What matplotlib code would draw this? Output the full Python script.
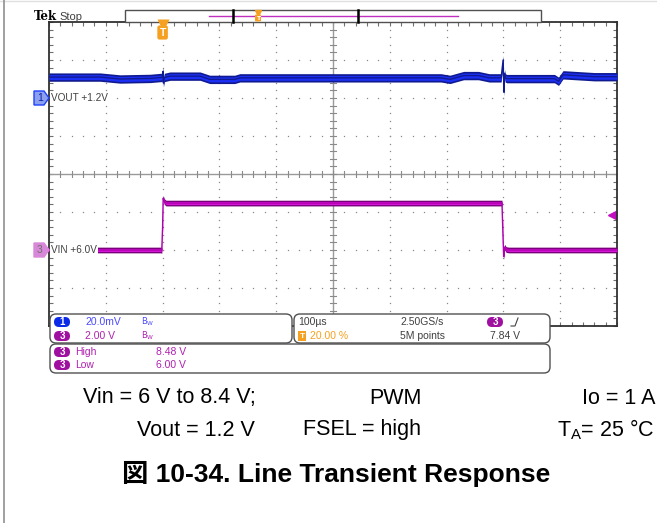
import numpy as np
import matplotlib
matplotlib.use('Agg')
import matplotlib.pyplot as plt
from matplotlib.patches import FancyBboxPatch, Rectangle, Polygon

plt.rcParams['mathtext.fontset'] = 'custom'
plt.rcParams['mathtext.rm'] = 'Liberation Sans'

# scope settings (as shown in the readout)
ch1_offset_v = 1.2
ch1_scale_mv = 20.0
ch1_pos_div = 2.0
ch3_offset_v = 6.0
ch3_scale_v = 2.0
ch3_pos_div = -2.0
trig_level_v = 7.84
t_start_us = -200
t_end_us = 800

# channel 1: VOUT deviation from 1.2 V (mV)
vout_t_us = [-200, -110, -75, -22, -3, -0.5, 0.5, 1.5, 3, 13, 66, 83, 127, 136, 295, 490,
             506, 530, 556, 575, 596, 599.5, 601, 602, 603, 606, 650, 690, 697, 705, 760, 800]
vout_mv = [11.0, 11.0, 10.0, 10.3, 10.8, 10.8, 14.0, 8.0, 10.8, 11.5, 11.5, 9.8, 9.8,
           10.6, 10.6, 10.6, 9.8, 11.8, 11.8, 10.6, 10.6, 20.0, 3.0, 13.0, 10.6, 10.2,
           10.2, 10.2, 8.8, 12.2, 11.2, 11.2]

# channel 3: VIN (V)
vin_t_us = [-200, -3, -1.5, 0, 1, 3, 6, 10, 596, 597.5, 599, 600.5, 602, 605, 610, 800]
vin_v = [6.0, 6.0, 5.97, 7.2, 8.72, 8.55, 8.47, 8.47, 8.47, 8.47, 7.0, 5.65,
         6.15, 6.02, 6.0, 6.0]

W, H = 657, 523
gx0, gx1, gy0, gy1 = 49, 617, 22, 326
div_px = (gy1 - gy0) / 8.0

fig = plt.figure(figsize=(W / 100, H / 100), dpi=100)
fig.patch.set_facecolor('white')

# scope graticule
sc = fig.add_axes([gx0 / W, 1 - gy1 / H, (gx1 - gx0) / W, (gy1 - gy0) / H])
sc.set_xlim(t_start_us, t_end_us)
sc.set_ylim(-4, 4)
sc.set_xticks(np.arange(t_start_us, t_end_us + 1, 100))
sc.set_xticks(np.arange(t_start_us, t_end_us + 1, 20), minor=True)
sc.set_yticks(np.arange(-4, 5, 1))
sc.set_yticks(np.arange(-4, 4.01, 0.2), minor=True)
sc.tick_params(which='both', direction='in', length=3, width=0.8, color='#707070',
               top=True, right=True, labelbottom=False, labelleft=False)
for s in sc.spines.values():
    s.set_color('#303030')
    s.set_linewidth(1.3)

# dotted division lines
gray = '#8a8a8a'
xs_minor = np.arange(t_start_us, t_end_us + 1, 20)
ys_minor = np.arange(-4, 4.01, 0.2)
for xv in np.arange(t_start_us + 100, t_end_us, 100):
    if xv == 300:
        continue
    sc.plot(np.full_like(ys_minor, xv), ys_minor, ls='none', marker='s', ms=0.9,
            color=gray, mec='none')
for yv in np.arange(-3, 4, 1):
    if yv == 0:
        continue
    sc.plot(xs_minor, np.full_like(xs_minor, yv, dtype=float), ls='none', marker='s',
            ms=0.9, color=gray, mec='none')
# centre cross with ticks
sc.axhline(0, color='#9a9a9a', lw=1.0)
sc.axvline(300, color='#9a9a9a', lw=1.0)
for xv in xs_minor:
    sc.plot([xv, xv], [-0.08, 0.08], color='#8a8a8a', lw=0.8)
for yv in ys_minor:
    sc.plot([300 - 5, 300 + 5], [yv, yv], color='#8a8a8a', lw=0.8)

# traces: a noisy band drawn as a constant-height ribbon around the trace
vout_div = ch1_pos_div + np.array(vout_mv) / ch1_scale_mv
vin_div = ch3_pos_div + (np.array(vin_v) - ch3_offset_v) / ch3_scale_v
sc.fill_between(vout_t_us, vout_div - 0.11, vout_div + 0.11, color='#101a90', lw=0, zorder=5)
sc.fill_between(vout_t_us, vout_div - 0.065, vout_div + 0.065, color='#1c30f5', lw=0, zorder=6)
sc.plot(vout_t_us, vout_div, color='#101a90', lw=1.0, zorder=6)
sc.fill_between(vin_t_us, vin_div - 0.075, vin_div + 0.075, color='#7a007a', lw=0, zorder=5)
sc.fill_between(vin_t_us, vin_div - 0.04, vin_div + 0.04, color='#d414d4', lw=0, zorder=6)
sc.plot(vin_t_us, vin_div, color='#b000b0', lw=1.0, zorder=6)

# trigger level arrow
trig_div = ch3_pos_div + (trig_level_v - ch3_offset_v) / ch3_scale_v
sc.plot([791, 800], [trig_div, trig_div], color='#c010c0', lw=1.2, clip_on=False)
sc.plot([791], [trig_div], marker='<', ms=6, color='#c010c0', mec='#c010c0', clip_on=False)

# overlay in pixel coordinates
ov = fig.add_axes([0, 0, 1, 1])
ov.set_xlim(0, W)
ov.set_ylim(H, 0)
ov.set_facecolor('none')
ov.axis('off')

ov.plot([0, W], [0.5, 0.5], color='#e0e0e0', lw=1)
ov.plot([4, 4], [0, H], color='#909090', lw=1.2)

fn = 'Liberation Sans'
dark = '#404040'
blue_txt = '#4a4aff'
mag_txt = '#b020b0'
orange = '#f5a020'

ov.text(34, 17, 'Tek', fontsize=8.5, fontweight='bold', family='DejaVu Serif',
        ha='left', va='center', color='black')
ov.text(59, 17, 'Stop', fontsize=8, family=fn, ha='left', va='center', color=dark)

# record view bar
ov.add_patch(Rectangle((125, 10), 416, 12, fc='white', ec='#505050', lw=1.0))
ov.plot([209, 458], [15.5, 15.5], color='#c030c0', lw=1.0)
ov.plot([233, 233], [10, 22], color='black', lw=1.8)
ov.plot([358, 358], [10, 22], color='black', lw=1.8)
ov.plot([258], [13], marker='v', ms=4, color=orange)
ov.text(258, 18, 'T', fontsize=4.5, color='white', ha='center', va='center',
        fontweight='bold', bbox=dict(boxstyle='round,pad=0.15', fc=orange, ec='none'))

# trigger position marker
trig_x = gx0 + (0 - t_start_us) / (t_end_us - t_start_us) * (gx1 - gx0)
ov.plot([trig_x], [25], marker='v', ms=8, color=orange, mec='none')
ov.text(trig_x, 32.5, 'T', fontsize=7.5, color='white', ha='center', va='center',
        fontweight='bold', family=fn,
        bbox=dict(boxstyle='round,pad=0.2', fc=orange, ec='none'))

# channel markers
ch1_y = gy0 + (4 - ch1_pos_div) * div_px
ch3_y = gy0 + (4 - ch3_pos_div) * div_px
for cy, fc, ec, lab, tc, txt in [(ch1_y, '#8ca0f0', '#2040ff', '1', '#1020a0', 'VOUT +1.2V'),
                                 (ch3_y, '#d888d8', '#d888d8', '3', '#707070', 'VIN +6.0V')]:
    ov.add_patch(Polygon([(34, cy - 7), (44, cy - 7), (49, cy), (44, cy + 7), (34, cy + 7)],
                         closed=True, fc=fc, ec=ec, lw=1.0))
    ov.text(40, cy, lab, fontsize=7.5, family=fn, color=tc, ha='center', va='center')
    ov.text(51, cy, txt, fontsize=7.2, family=fn, color=dark, ha='left', va='center',
            bbox=dict(boxstyle='square,pad=0.1', fc='white', ec='none'))

# readout boxes
for (bx, by, bw, bh) in [(50, 314, 242, 29), (294, 314, 256, 29), (50, 344, 500, 29)]:
    ov.add_patch(FancyBboxPatch((bx, by), bw, bh, boxstyle='round,pad=0,rounding_size=6',
                                fc='white', ec='#505050', lw=1.0, zorder=3))


def pill(x, y, lab, fc):
    ov.add_patch(FancyBboxPatch((x - 8, y - 5), 16, 10, boxstyle='round,pad=0,rounding_size=5',
                                fc=fc, ec='none', zorder=4))
    ov.text(x, y, lab, fontsize=7, color='white', ha='center', va='center',
            family=fn, fontweight='bold', zorder=5)


r1, r2, r3, r4 = 322, 336, 352, 365
pill(62, r1, '1', '#0a2ae8')
pill(62, r2, '3', '#a010a0')
ov.text(85, r1, '20.0mV', fontsize=7.5, family=fn, color=blue_txt, va='center', zorder=5)
ov.text(85, r2, '2.00 V', fontsize=7.5, family=fn, color=mag_txt, va='center', zorder=5)
ov.text(141, r1, r'$\mathregular{B_W}$', fontsize=6, color=blue_txt, va='center', zorder=5)
ov.text(141, r2, r'$\mathregular{B_W}$', fontsize=6, color=mag_txt, va='center', zorder=5)

ov.text(298, r1, '100µs', fontsize=7.5, family=fn, color=dark, va='center', zorder=5)
ov.text(400, r1, '2.50GS/s', fontsize=7.5, family=fn, color=dark, va='center', zorder=5)
pill(495, r1, '3', '#a010a0')
ov.plot([511, 515, 518], [r1 + 4, r1 + 4, r1 - 4], color=dark, lw=0.8, zorder=5)
ov.text(302, r2, 'T', fontsize=6, color='white', ha='center', va='center', fontweight='bold',
        family=fn, zorder=5, bbox=dict(boxstyle='square,pad=0.15', fc=orange, ec='none'))
ov.text(310, r2, '20.00 %', fontsize=7.5, family=fn, color=orange, va='center', zorder=5)
ov.text(400, r2, '5M points', fontsize=7.5, family=fn, color=dark, va='center', zorder=5)
ov.text(490, r2, '7.84 V', fontsize=7.5, family=fn, color=dark, va='center', zorder=5)

pill(62, r3, '3', '#a010a0')
pill(62, r4, '3', '#a010a0')
ov.text(75, r3, 'High', fontsize=7.5, family=fn, color=mag_txt, va='center', zorder=5)
ov.text(75, r4, 'Low', fontsize=7.5, family=fn, color=mag_txt, va='center', zorder=5)
ov.text(156, r3, '8.48 V', fontsize=7.5, family=fn, color=mag_txt, va='center', zorder=5)
ov.text(156, r4, '6.00 V', fontsize=7.5, family=fn, color=mag_txt, va='center', zorder=5)

# caption
cap = dict(fontsize=15.5, family=fn, color='black', va='center')
ov.text(83, 398, 'Vin = 6 V to 8.4 V;', ha='left', **cap)
ov.text(395, 398, 'PWM', ha='center', **cap)
ov.text(655, 398, 'Io = 1 A', ha='right', **cap)
ov.text(255, 430, 'Vout = 1.2 V', ha='right', **cap)
ov.text(421, 430, 'FSEL = high', ha='right', **cap)
ov.text(655, 430, r'T$_\mathregular{A}$= 25 °C', ha='right', **cap)
ov.text(336, 474, '図 10-34. Line Transient Response', fontsize=19, fontweight='bold',
        family=['Liberation Sans', 'Noto Sans CJK JP'], ha='center', va='center', color='black')

fig.savefig('out.png', dpi=100)
